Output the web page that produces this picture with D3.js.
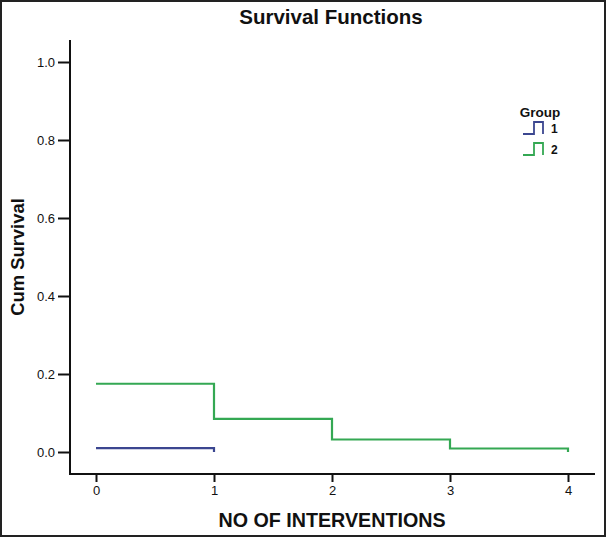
<!DOCTYPE html>
<html><head><meta charset="utf-8">
<script src="https://cdn.jsdelivr.net/npm/d3@7"></script>
<style>body{margin:0;background:#fff;}svg{display:block;font-family:"Liberation Sans",Arial,sans-serif;}</style>
</head><body>
<script>
const times = [0, 1, 2, 3, 4];
const group1 = [0.010, 0.0];
const group2 = [0.175, 0.085, 0.032, 0.009, 0.0];
const groups = ["1", "2"];
const colors = ["#3b4690", "#34a853"];
const yTicks = [0.0, 0.2, 0.4, 0.6, 0.8, 1.0];
const xTicks = [0, 1, 2, 3, 4];

const W = 606, H = 537;
const svg = d3.select("body").append("svg").attr("width", W).attr("height", H);
svg.append("rect").attr("x",1).attr("y",1).attr("width",W-2).attr("height",H-2)
  .attr("fill","#fff").attr("stroke","#222").attr("stroke-width",2);

const x = d3.scaleLinear().domain([0,4]).range([96,568]);
const y = d3.scaleLinear().domain([0,1]).range([452,62]);

svg.append("text").attr("x",331).attr("y",24).attr("text-anchor","middle")
  .attr("font-size",20.5).attr("font-weight","bold").attr("fill","#111").text("Survival Functions");

// Y axis
const yAxis = d3.axisLeft(y).tickValues(yTicks).tickFormat(d3.format(".1f")).tickSize(12).tickPadding(3);
const gy = svg.append("g").attr("transform","translate(70,0)").call(yAxis);
gy.select(".domain").remove();
gy.append("line").attr("x1",0).attr("x2",0).attr("y1",40).attr("y2",475).attr("stroke","#111").attr("stroke-width",2);
gy.selectAll(".tick line").attr("stroke","#111").attr("stroke-width",2);
gy.selectAll(".tick text").attr("font-size",13).attr("fill","#111").attr("font-family","Liberation Sans, Arial, sans-serif");

// X axis
const xAxis = d3.axisBottom(x).tickValues(xTicks).tickFormat(d3.format("d")).tickSize(8).tickPadding(4);
const gx = svg.append("g").attr("transform","translate(0,474)").call(xAxis);
gx.select(".domain").remove();
gx.append("line").attr("x1",69).attr("x2",595).attr("y1",0).attr("y2",0).attr("stroke","#111").attr("stroke-width",2);
gx.selectAll(".tick line").attr("stroke","#111").attr("stroke-width",2);
gx.selectAll(".tick text").attr("font-size",13).attr("fill","#111").attr("font-family","Liberation Sans, Arial, sans-serif");

svg.append("text").attr("x",332).attr("y",527).attr("text-anchor","middle")
  .attr("font-size",19.7).attr("font-weight","bold").attr("fill","#111").text("NO OF INTERVENTIONS");
svg.append("text").attr("transform","translate(24,257) rotate(-90)").attr("text-anchor","middle")
  .attr("font-size",18.4).attr("font-weight","bold").attr("fill","#111").text("Cum Survival");

const line = d3.line().x(d=>x(d[0])).y(d=>y(d[1])).curve(d3.curveStepAfter);
const series = [group1.map((v,i)=>[times[i],v]), group2.map((v,i)=>[times[i],v])];
series.forEach((s,i)=>{
  svg.append("path").attr("d",line(s)).attr("fill","none").attr("stroke",colors[i]).attr("stroke-width",2.2);
});

// Legend
const lg = svg.append("g");
lg.append("text").attr("x",540).attr("y",117).attr("text-anchor","middle").attr("font-size",13.5).attr("font-weight","bold").attr("fill","#111").text("Group");
groups.forEach((g,i)=>{
  const yy = 134 + i*21;
  lg.append("path").attr("d",`M523,${yy} H534 V${yy-12} H543 V${yy}`).attr("fill","none").attr("stroke",colors[i]).attr("stroke-width",1.8);
  lg.append("text").attr("x",551).attr("y",yy-1).attr("font-size",12).attr("font-weight","bold").attr("fill","#111").text(g);
});
</script>
</body></html>
